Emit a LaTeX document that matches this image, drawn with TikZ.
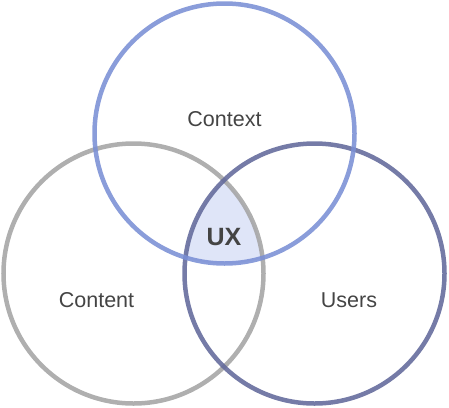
\documentclass[tikz,border=0pt]{standalone}
\usepackage{fontspec}
\setmainfont{Liberation Sans}
\definecolor{ctxc}{HTML}{7A8FD5}
\definecolor{cntc}{HTML}{A4A4A4}
\definecolor{usrc}{HTML}{62699B}
\definecolor{uxfill}{HTML}{DFE5F8}
\definecolor{txt}{HTML}{444444}
\begin{document}
\begin{tikzpicture}[x=1pt,y=-1pt,
  ring/.style={line width=4.5pt, draw opacity=0.88},
  lbl/.style={text=txt, font=\fontsize{21.5}{24}\selectfont, inner sep=0pt, anchor=base},
  uxlbl/.style={text=txt, font=\fontsize{25}{28}\selectfont\bfseries, inner sep=0pt, anchor=base}]
\useasboundingbox (0,0) rectangle (449,407);
\coordinate (cctx) at (224.5,133.5);
\coordinate (ccnt) at (133.5,273.5);
\coordinate (cusr) at (314.5,273.5);
\begin{scope}
  \clip (cctx) circle[radius=130];
  \clip (ccnt) circle[radius=130];
  \fill[uxfill] (cusr) circle[radius=130];
\end{scope}
\draw[ring, cntc] (ccnt) circle[radius=130];
\draw[ring, usrc] (cusr) circle[radius=130];
\draw[ring, ctxc] (cctx) circle[radius=130];
\node[lbl] (context) at (224.5,126) {Context};
\node[lbl] (content) at (96.5,307.5) {Content};
\node[lbl] (users) at (349,307.5) {Users};
\node[uxlbl] (ux) at (224,245) {UX};
\end{tikzpicture}
\end{document}
